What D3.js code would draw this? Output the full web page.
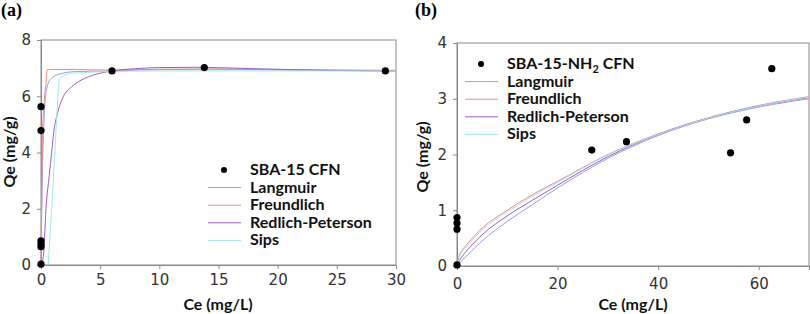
<!DOCTYPE html>
<html>
<head>
<meta charset="utf-8">
<script src="https://cdn.jsdelivr.net/npm/d3@7"></script>
<style>
  body { margin: 0; background: #fff; }
  svg { display: block; }
  .tick text { font-family: "DejaVu Sans", sans-serif; font-size: 15px; fill: #333; }
  .ttl { font-family: Lato, "Open Sans", sans-serif; font-weight: bold; font-size: 16px; fill: #111; }
  .lg { font-family: Lato, "Open Sans", sans-serif; font-weight: bold; font-size: 16px; fill: #111; }
  .pl { font-family: "Liberation Serif", serif; font-weight: bold; font-size: 18px; }
</style>
</head>
<body>
<script>
/* DATA */
// panel (a) SBA-15 CFN
var aCe = [0, 0, 0, 0, 0, 0, 6.0, 13.8, 29.1];
var aQe = [0.03, 0.65, 0.75, 0.86, 4.78, 5.63, 6.9, 7.02, 6.9];

var aLangC = [0, 0.1, 0.3, 0.5, 0.8, 1.5, 3, 6, 10, 14, 20, 30];
var aLangQ = [0, 2.8, 5.5, 6.3, 6.6, 6.78, 6.88, 6.9, 6.95, 6.96, 6.94, 6.9];
var aFreuC = [0, 0.05, 0.14, 0.3, 0.45, 0.5, 1, 3, 6, 10, 14, 20, 30];
var aFreuQ = [0, 2.0, 4.8, 6.0, 6.6, 6.94, 6.95, 6.95, 6.93, 6.96, 6.97, 6.95, 6.92];
var aRPC = [0, 0.2, 0.42, 0.7, 0.9, 1.1, 1.4, 1.9, 2.5, 3.3, 4.4, 6, 8, 10, 13, 18, 24, 30];
var aRPQ = [0, 0.3, 2.0, 3.2, 4.0, 4.8, 5.4, 6.0, 6.3, 6.55, 6.75, 6.9, 6.98, 7.02, 7.03, 6.98, 6.92, 6.9];
var aSipsC = [0.6, 0.9, 1.2, 1.4, 1.55, 2, 3, 6, 10, 14, 20, 30];
var aSipsQ = [0, 2.0, 4.2, 5.8, 6.6, 6.75, 6.83, 6.88, 6.9, 6.9, 6.9, 6.9];

// panel (b) SBA-15-NH2 CFN
var bCe = [0, 0, 0, 0, 26.8, 33.7, 54.4, 57.6, 62.6];
var bQe = [0.02, 0.66, 0.77, 0.87, 2.08, 2.23, 2.03, 2.62, 3.54];

var bC = [0, 0.5, 1, 2, 5, 10, 15, 20, 30, 40, 50, 60, 70];
var bLangQ = [0, 0.05, 0.1, 0.19, 0.45, 0.8, 1.1, 1.4, 1.93, 2.34, 2.64, 2.85, 3.0];
var bFreuQ = [0, 0.2, 0.28, 0.39, 0.68, 1.0, 1.28, 1.52, 2.0, 2.37, 2.66, 2.88, 3.04];
var bRPQ = [0, 0.1, 0.17, 0.28, 0.56, 0.9, 1.18, 1.45, 1.96, 2.36, 2.65, 2.87, 3.02];
var bSipsQ = [0, 0.17, 0.25, 0.36, 0.65, 0.97, 1.25, 1.5, 1.99, 2.36, 2.65, 2.87, 3.03];

var aTicksX = [0, 5, 10, 15, 20, 25, 30];
var aTicksY = [0, 2, 4, 6, 8];
var bTicksX = [0, 20, 40, 60];
var bTicksY = [0, 1, 2, 3, 4];

var models = ["Langmuir", "Freundlich", "Redlich-Peterson", "Sips"];
var colors = ["#9b9bee", "#f08a8a", "#9a5cc8", "#a6e6e6"];

var svg = d3.select("body").append("svg").attr("width", 810).attr("height", 314);

function zip(xs, ys) { return xs.map(function(v, i) { return [v, ys[i]]; }); }

function panel(o) {
  var x = d3.scaleLinear().domain(o.xd).range([o.left, o.right]);
  var y = d3.scaleLinear().domain(o.yd).range([o.bottom, o.top]);
  var g = svg.append("g");

  // frame
  g.append("rect").attr("x", o.left).attr("y", o.top)
    .attr("width", o.right - o.left).attr("height", o.bottom - o.top)
    .attr("fill", "none").attr("stroke", "#8a8a8a").attr("stroke-width", 1);

  var xa = g.append("g").attr("transform", "translate(0," + o.bottom + ")")
    .call(d3.axisBottom(x).tickValues(o.xt).tickFormat(d3.format("d")).tickSize(4).tickPadding(o.xpad));
  var ya = g.append("g").attr("transform", "translate(" + o.left + ",0)")
    .call(d3.axisLeft(y).tickValues(o.yt).tickFormat(d3.format("d")).tickSize(4).tickPadding(6));
  [xa, ya].forEach(function(a) {
    a.select(".domain").attr("stroke", "#8a8a8a");
    a.selectAll(".tick line").attr("stroke", "#8a8a8a");
  });

  var line = d3.line().x(function(d) { return x(d[0]); }).y(function(d) { return y(d[1]); })
    .curve(d3.curveMonotoneX);
  o.curves.forEach(function(c, i) {
    g.append("path").datum(c).attr("d", line).attr("fill", "none")
      .attr("stroke", colors[i]).attr("stroke-width", 1);
  });

  g.selectAll("circle.pt").data(zip(o.ce, o.qe)).enter().append("circle")
    .attr("class", "pt").attr("cx", function(d) { return x(d[0]); })
    .attr("cy", function(d) { return y(d[1]); }).attr("r", 3.6).attr("fill", "#000");

  // titles
  g.append("text").attr("class", "ttl").attr("text-anchor", "middle")
    .attr("x", o.xtx).attr("y", 310).text("Ce (mg/L)");
  g.append("text").attr("class", "ttl").attr("text-anchor", "middle")
    .attr("transform", "translate(" + o.ytx + "," + o.yty + ") rotate(-90)").text("Qe (mg/g)");
  g.append("text").attr("class", "pl").attr("x", o.plx).attr("y", 16).text(o.pl);

  // legend
  var lx = o.lgx, ly = o.lgy, step = 17.6;
  g.append("circle").attr("cx", lx + 16).attr("cy", ly).attr("r", 3).attr("fill", "#000");
  var t0 = g.append("text").attr("class", "lg").attr("x", lx + 42).attr("y", ly + 5);
  o.name(t0);
  models.forEach(function(m, i) {
    var yy = ly + step * (i + 1);
    g.append("line").attr("x1", lx).attr("x2", lx + 33).attr("y1", yy).attr("y2", yy)
      .attr("stroke", colors[i]).attr("stroke-width", 1);
    g.append("text").attr("class", "lg").attr("x", lx + 42).attr("y", yy + 5).text(m);
  });
}

panel({
  left: 41, right: 396, top: 40, bottom: 265, xd: [0, 30], yd: [0, 8],
  xt: aTicksX, yt: aTicksY, xpad: 5, ce: aCe, qe: aQe,
  curves: [zip(aLangC, aLangQ), zip(aFreuC, aFreuQ), zip(aRPC, aRPQ), zip(aSipsC, aSipsQ)],
  xtx: 218, ytx: 15, yty: 152, plx: 1, pl: "(a)", lgx: 208, lgy: 170,
  name: function(t) { t.text("SBA-15 CFN"); }
});

panel({
  left: 457, right: 809, top: 43, bottom: 266, xd: [0, 70], yd: [0, 4],
  xt: bTicksX, yt: bTicksY, xpad: 8, ce: bCe, qe: bQe,
  curves: [zip(bC, bLangQ), zip(bC, bFreuQ), zip(bC, bRPQ), zip(bC, bSipsQ)],
  xtx: 633, ytx: 428, yty: 157, plx: 415, pl: "(b)", lgx: 465, lgy: 64,
  name: function(t) {
    t.append("tspan").text("SBA-15-NH");
    t.append("tspan").attr("dy", 4).attr("font-size", 11).text("2");
    t.append("tspan").attr("dy", -4).text(" CFN");
  }
});
</script>
</body>
</html>
